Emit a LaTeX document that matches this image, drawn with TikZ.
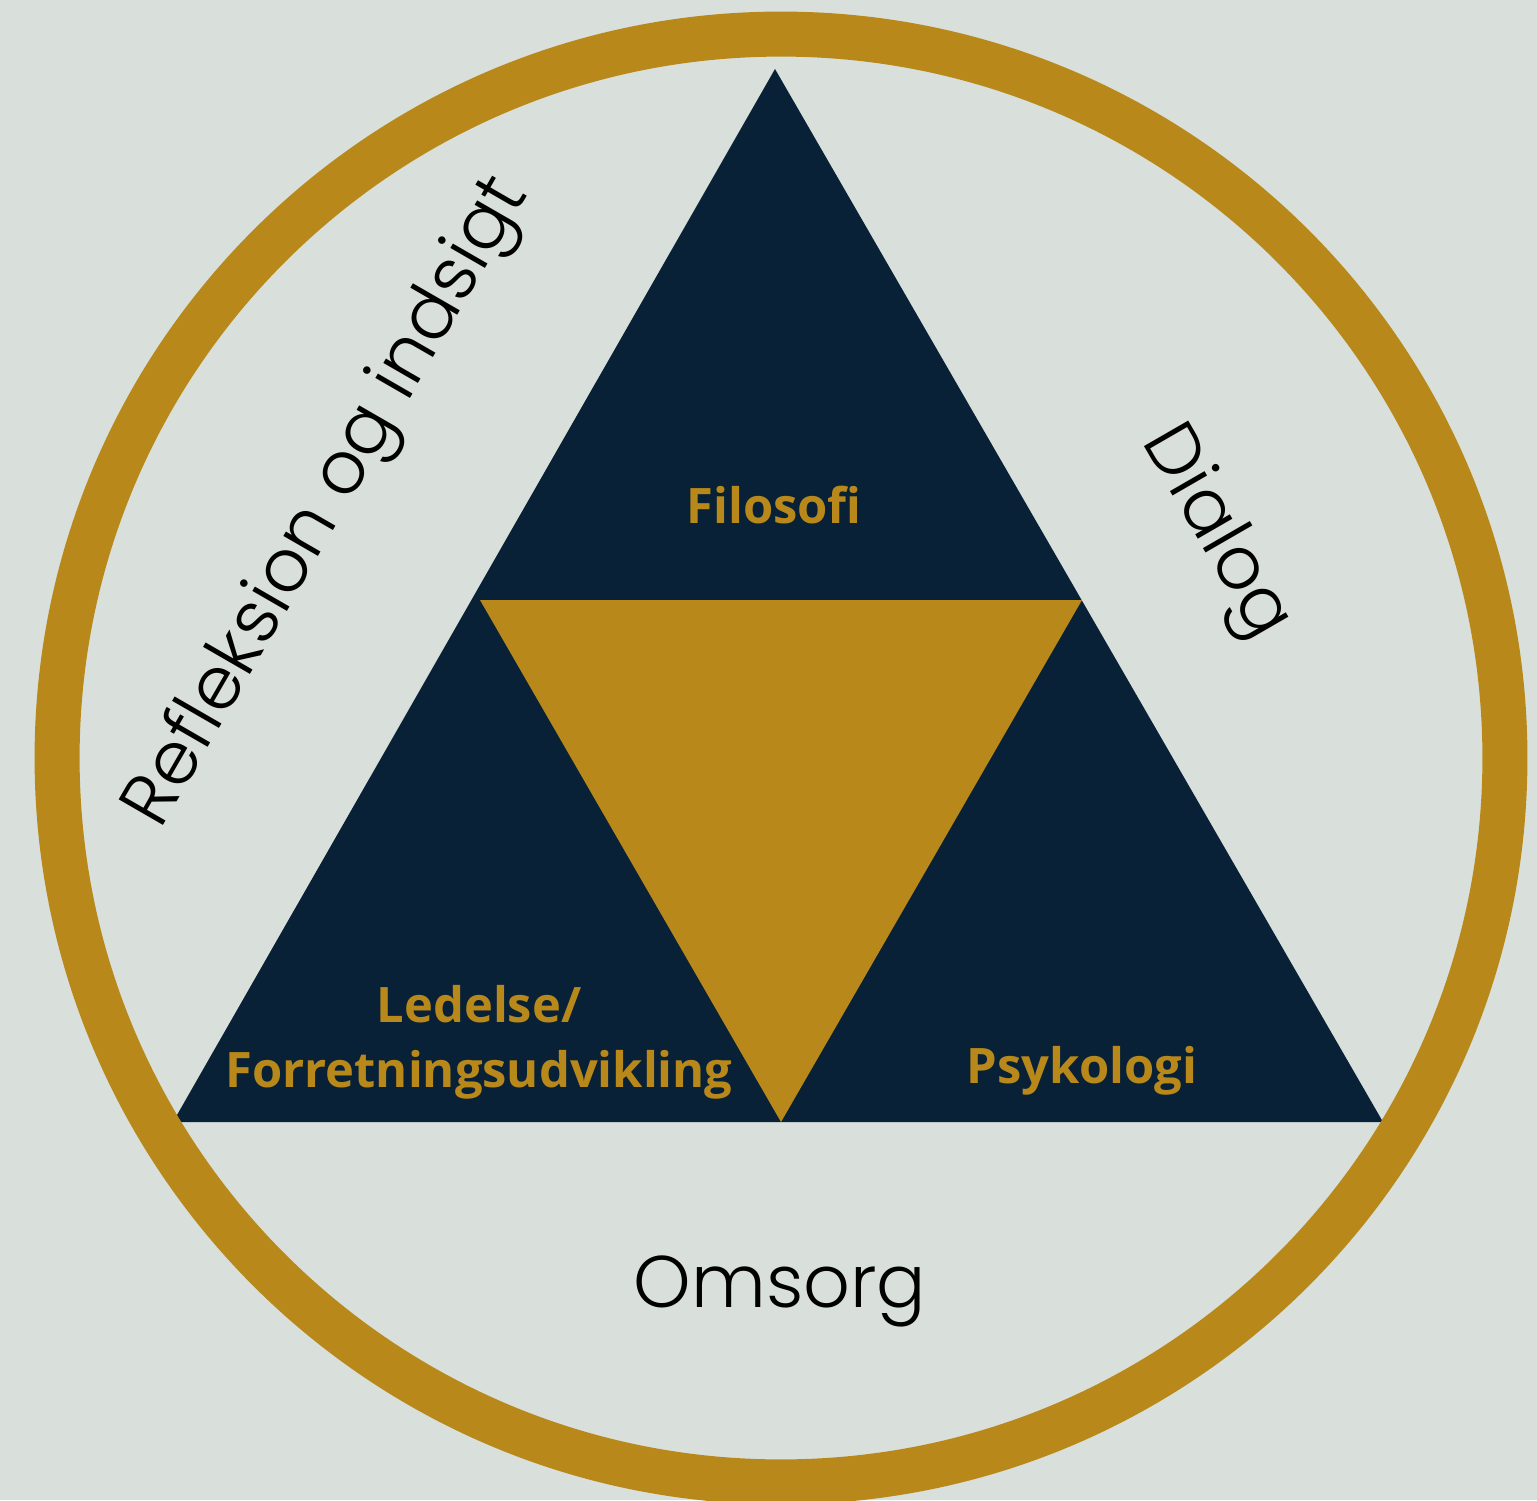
\documentclass[tikz,border=0pt]{standalone}
\usepackage{fontspec}
\newfontfamily\labfont{Open Sans}
\newfontfamily\thinfont{Poppins}[UprightFont={* Light}]
\definecolor{bg}{HTML}{D9E0DB}
\definecolor{gold}{HTML}{B8891A}
\definecolor{navy}{HTML}{082137}
\tikzset{
  goldlabel/.style={text=gold, font=\labfont\bfseries\fontsize{13.9pt}{18.5pt}\selectfont, inner sep=0pt},
  thinlabel/.style={text=black, font=\thinfont\fontsize{20.8pt}{25pt}\selectfont, inner sep=0pt}
}
\begin{document}
\begin{tikzpicture}[x=0.01cm,y=-0.01cm]
\fill[bg] (0,0) rectangle (1537,1500);
\useasboundingbox (0,0) rectangle (1537,1500);
% outer triangle
\coordinate (apex) at (775,69);
\coordinate (bl) at (173,1122);
\coordinate (br) at (1383,1122);
\fill[navy] (apex) -- (br) -- (bl) -- cycle;
% inner triangle
\coordinate (il) at (480,600);
\coordinate (ir) at (1082,600);
\coordinate (ib) at (781,1122);
\fill[gold] (il) -- (ir) -- (ib) -- cycle;
% ring
\coordinate (c) at (781,758);
\draw[gold, line width=0.45cm] (c) circle[radius=7.235cm];
% labels
\node[goldlabel, anchor=base] (filo) at (774,523) {Filosofi};
\node[goldlabel, anchor=base] (led1) at (479,1022) {Ledelse/};
\node[goldlabel, anchor=base] (led2) at (479,1087) {Forretningsudvikling};
\node[goldlabel, anchor=base] (psy) at (1082,1083) {Psykologi};
\node[thinlabel, anchor=base] (oms) at (780,1307) {Omsorg};
\node[thinlabel, rotate=-60] (dia) at (1215,533) {Dialog};
\node[thinlabel, rotate=60] (ref) at (329,503) {Refleksion og indsigt};
\end{tikzpicture}
\end{document}
